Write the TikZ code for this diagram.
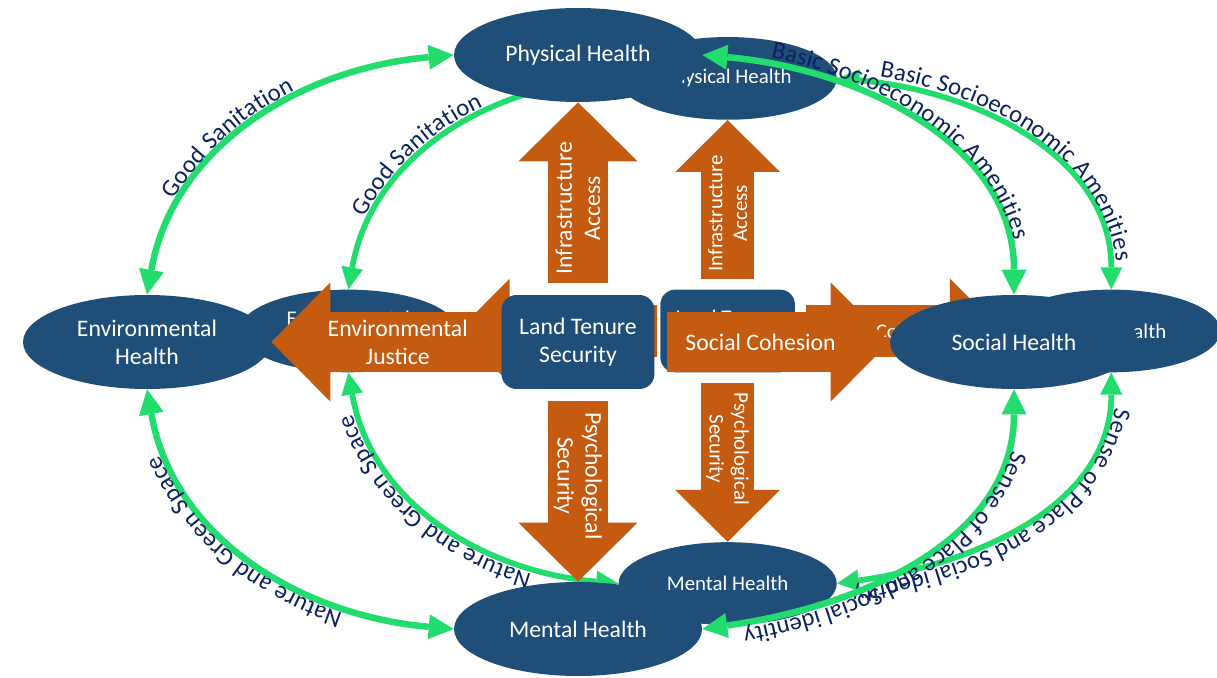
\documentclass[tikz,border=0pt]{standalone}
\usepackage{fontspec}
\setmainfont{Carlito}
\usetikzlibrary{arrows.meta,shapes.geometric,decorations.text}

\definecolor{healthblue}{HTML}{1F4E79}
\definecolor{flowrust}{HTML}{C55A11}
\definecolor{linkgreen}{HTML}{22DD6E}
\definecolor{labelnavy}{HTML}{0B2160}

\newcommand{\boxfont}{\fontsize{13.5}{16}\selectfont}
\newcommand{\linkfont}{\fontsize{14}{17}\selectfont}

\tikzset{
  health/.style={ellipse, fill=healthblue, text=white, font=\boxfont, align=center,
    minimum width=4.96cm, minimum height=1.88cm, inner sep=0pt},
  tenure/.style={rectangle, rounded corners=0.3cm, fill=healthblue, text=white,
    font=\boxfont, align=center, minimum width=3.06cm, minimum height=1.88cm},
  flow/.style={flowrust, line width=\s*1.2cm, shorten <=\s*0.24cm,
    >={Triangle[length=1.18cm, width=2.38cm, line width=0pt, scale=\s]}, ->},
  flowtext/.style={text=white, font=\boxfont, align=center},
  link/.style={linkgreen, line width=\s*0.13cm,
    >={Triangle[length=0.5cm, width=0.5cm, line width=0pt, scale=\s]}, <->},
  linklabel/.style={decorate, decoration={text along path, text align=center,
    raise=4pt, text color=labelnavy, text={|\linkfont|#1}}}
}

\begin{document}
\begin{tikzpicture}[x=0.02cm, y=0.02cm]
  \useasboundingbox (0,0) rectangle (1217,-678);
  % the smaller copy first, the full one on top of it
  \foreach \s/\dx/\dy in {0.88/219/-30, 1/0/0} {
    \begin{scope}[shift={(\dx,\dy)}, scale=\s, transform shape]
      \node[tenure] (LTS) at (578,-342) {Land Tenure\\Security};
      \node[health] (PH) at (578,-55) {Physical Health};
      \node[health] (EH) at (147,-342) {Environmental\\Health};
      \node[health] (SH) at (1014,-342) {Social Health};
      \node[health] (MH) at (578,-629) {Mental Health};

      \draw[flow] (LTS.north) -- (PH.south)
        node[flowtext, pos=0.45, rotate=90] (infra) {Infrastructure\\Access};
      \draw[flow] (LTS.south) -- (MH.north)
        node[flowtext, pos=0.45, rotate=-90] (psych) {Psychological\\Security};
      \draw[flow, shorten <=\s*0.06cm] (LTS.west) -- (EH.east)
        node[flowtext, pos=0.45] (justice) {Environmental\\Justice};
      \draw[flow] (LTS.east) -- (SH.west)
        node[flowtext, pos=0.45] (cohesion) {Social Cohesion};

      \draw[link] (EH.north) to[out=80, in=185] (PH.west);
      \path[linklabel={Good Sanitation},
        decoration={text align={center, right indent=1.3cm}}]
        (EH.north) to[out=80, in=185] (PH.west);
      \draw[link] (PH.east) to[out=-5, in=90] (SH.north);
      \path[linklabel={Basic Socioeconomic Amenities},
        decoration={text align={center, left indent=0.3cm}}]
        (PH.east) to[out=-5, in=90] (SH.north);
      \draw[link] (SH.south) to[out=-90, in=8] (MH.east);
      \path[linklabel={Sense of Place and Social identity},
        decoration={text align={center, left indent=0.4cm}}]
        (SH.south) to[out=-90, in=8] (MH.east);
      \draw[link] (MH.west) to[out=175, in=-80] (EH.south);
      \path[linklabel={Nature and Green Space},
        decoration={text align={center, left indent=0.9cm}}]
        (MH.west) to[out=175, in=-80] (EH.south);
    \end{scope}
  }
\end{tikzpicture}
\end{document}
